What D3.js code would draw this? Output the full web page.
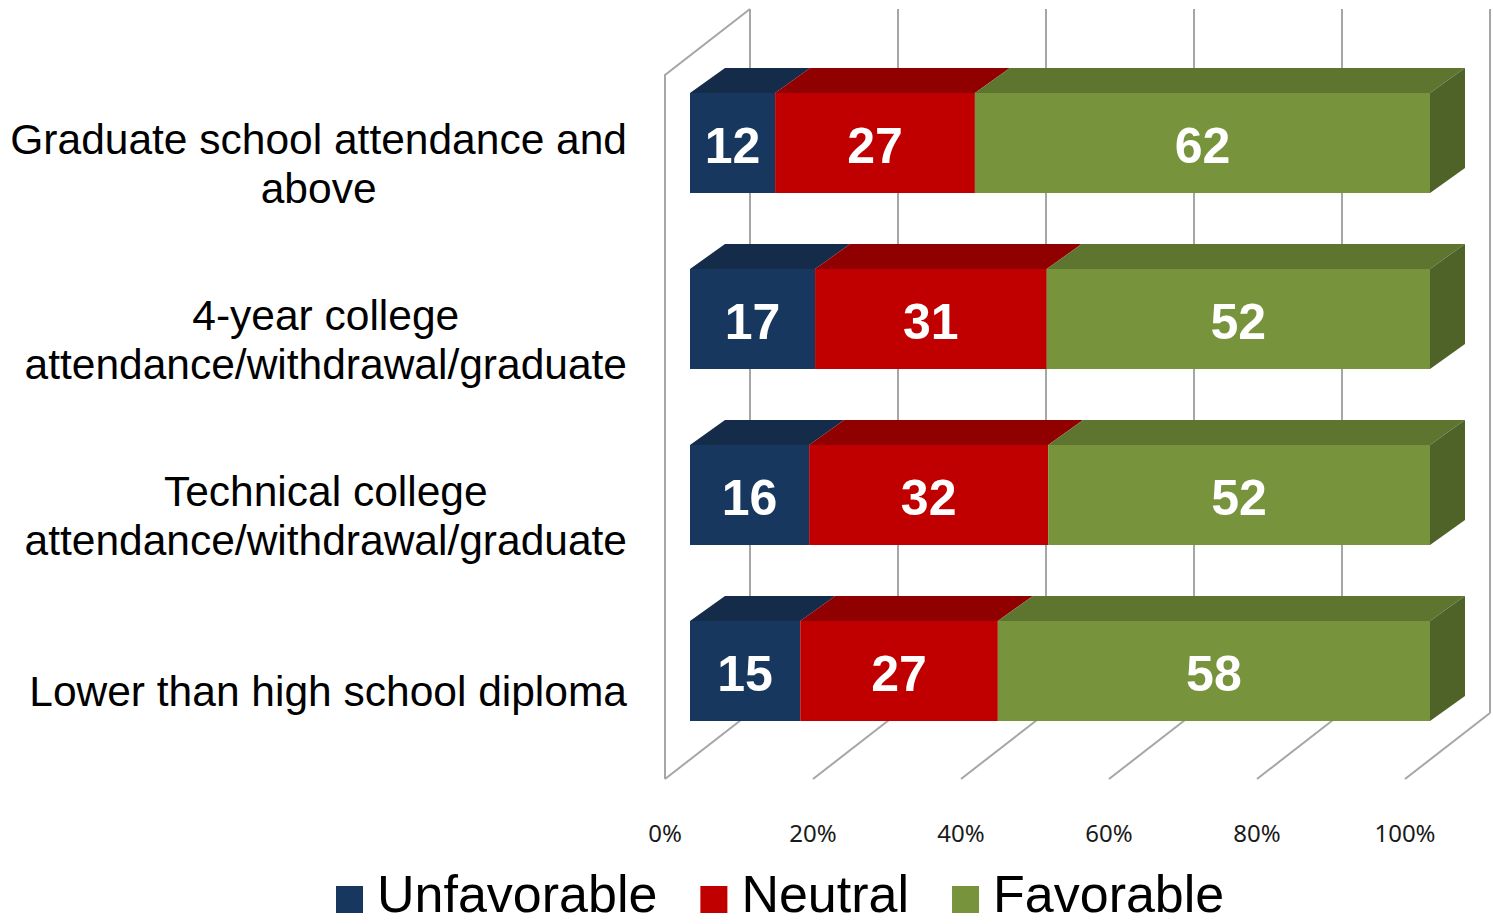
<!DOCTYPE html>
<html>
<head>
<meta charset="utf-8">
<script src="https://cdn.jsdelivr.net/npm/d3@7"></script>
<style>
  html, body { margin: 0; padding: 0; background: #ffffff; }
  svg { display: block; }
</style>
</head>
<body>
<svg id="chart" width="1493" height="924"></svg>
<script>
// ---------- data ----------
const categories = [
  ["Graduate school attendance and", "above"],
  ["4-year college", "attendance/withdrawal/graduate"],
  ["Technical college", "attendance/withdrawal/graduate"],
  ["Lower than high school diploma"]
];
const seriesNames = ["Unfavorable", "Neutral", "Favorable"];
const unfavorable = [11.5, 16.9, 16.1, 14.9];
const neutral     = [27.0, 31.3, 32.3, 26.7];
const favorable   = [61.5, 51.8, 51.6, 58.4];
const valueLabels = [
  [12, 27, 62],
  [17, 31, 52],
  [16, 32, 52],
  [15, 27, 58]
];
const tickValues = [0, 20, 40, 60, 80, 100];
const tickLabels = ["0%", "20%", "40%", "60%", "80%", "100%"];

// ---------- styles ----------
const frontColors = ["#18375E", "#C00000", "#77933C"];
const topColors   = ["#142B4A", "#900000", "#5E752F"];
const sideColors  = ["#122845", "#7A0000", "#4F6228"];
const gridColor = "#A6A6A6";
const labelFont = "'Liberation Sans', Arial, sans-serif";

const svg = d3.select("#chart");

// wall (front plane) scale and back plane offset
const xWall = d3.scaleLinear().domain([0, 100]).range([665, 1405]);
const wallDepth = { dx: 85, dy: -66 };
const floorY = 779, wallTopY = 75;

// bar scale (bars sit inside the depth)
const xBar = d3.scaleLinear().domain([0, 100]).range([690, 1430]);
const barDepth = { dx: 35, dy: -25 };
const y = d3.scaleBand()
  .domain(d3.range(categories.length))
  .range([55, 759])
  .paddingInner(76 / 176)
  .paddingOuter(38 / 176);

// ---------- gridlines / walls ----------
const grid = svg.append("g").attr("fill", "none").attr("stroke", gridColor).attr("stroke-width", 2);
grid.append("path").attr("d", d3.line()([
  [xWall(0), floorY],
  [xWall(0), wallTopY],
  [xWall(0) + wallDepth.dx, wallTopY + wallDepth.dy]
]));
tickValues.forEach(v => {
  const fx = xWall(v), bx = xWall(v) + wallDepth.dx;
  grid.append("line").attr("x1", bx).attr("x2", bx)
    .attr("y1", wallTopY + wallDepth.dy).attr("y2", floorY + wallDepth.dy);
  grid.append("line").attr("x1", fx).attr("y1", floorY)
    .attr("x2", bx).attr("y2", floorY + wallDepth.dy);
});

// ---------- bars ----------
const rows = categories.map((c, i) => [unfavorable[i], neutral[i], favorable[i]]);
const stack = rows.map(r => {
  let acc = 0;
  return r.map(v => { const s = acc; acc += v; return [s, acc]; });
});

const barsG = svg.append("g");
stack.forEach((segs, i) => {
  const top = y(i), bot = y(i) + y.bandwidth();
  const g = barsG.append("g");
  segs.forEach((s, k) => {
    const x0 = xBar(s[0]), x1 = xBar(s[1]);
    g.append("path")
      .attr("d", d3.line()([[x0, top], [x1, top], [x1 + barDepth.dx, top + barDepth.dy], [x0 + barDepth.dx, top + barDepth.dy]]) + "Z")
      .attr("fill", topColors[k]);
    g.append("rect").attr("x", x0).attr("y", top).attr("width", x1 - x0).attr("height", bot - top)
      .attr("fill", frontColors[k]);
    if (k === segs.length - 1) {
      g.append("path")
        .attr("d", d3.line()([[x1, top], [x1 + barDepth.dx, top + barDepth.dy], [x1 + barDepth.dx, bot + barDepth.dy], [x1, bot]]) + "Z")
        .attr("fill", sideColors[k]);
    }
  });
  segs.forEach((s, k) => {
    g.append("text")
      .attr("x", (xBar(s[0]) + xBar(s[1])) / 2)
      .attr("y", top + y.bandwidth() / 2 + 20)
      .attr("text-anchor", "middle")
      .attr("font-family", labelFont)
      .attr("font-weight", "bold")
      .attr("font-size", 50)
      .attr("fill", "#ffffff")
      .text(valueLabels[i][k]);
  });
});

// ---------- category labels ----------
const catG = svg.append("g").attr("font-family", labelFont).attr("font-size", 42.5).attr("fill", "#000");
categories.forEach((lines, i) => {
  const cy = y(i) + y.bandwidth() / 2 + 20.5;
  const t = catG.append("text").attr("text-anchor", "middle");
  const tspans = lines.map((ln, j) => t.append("tspan")
    .attr("y", cy + 14.5 + (j - (lines.length - 1) / 2) * 49)
    .text(ln));
  const maxW = d3.max(tspans, ts => ts.node().getComputedTextLength());
  const cx = 627 - maxW / 2;
  tspans.forEach(ts => ts.attr("x", cx));
});

// ---------- tick labels ----------
const tickG = svg.append("g").attr("font-family", "'Noto Sans', 'Open Sans', sans-serif")
  .attr("font-size", 24).attr("fill", "#1a1a1a").attr("text-anchor", "middle");
tickValues.forEach((v, i) => {
  tickG.append("text").attr("x", xWall(v)).attr("y", 842).text(tickLabels[i]);
});

// ---------- legend ----------
const legG = svg.append("g").attr("font-family", labelFont).attr("font-size", 52);
let lx = 336;
seriesNames.forEach((name, k) => {
  legG.append("rect").attr("x", lx).attr("y", 886).attr("width", 27).attr("height", 27).attr("fill", frontColors[k]);
  const t = legG.append("text").attr("x", lx + 41).attr("y", 912).attr("fill", "#000").text(name);
  lx = lx + 41 + t.node().getComputedTextLength() + 43;
});
</script>
</body>
</html>
